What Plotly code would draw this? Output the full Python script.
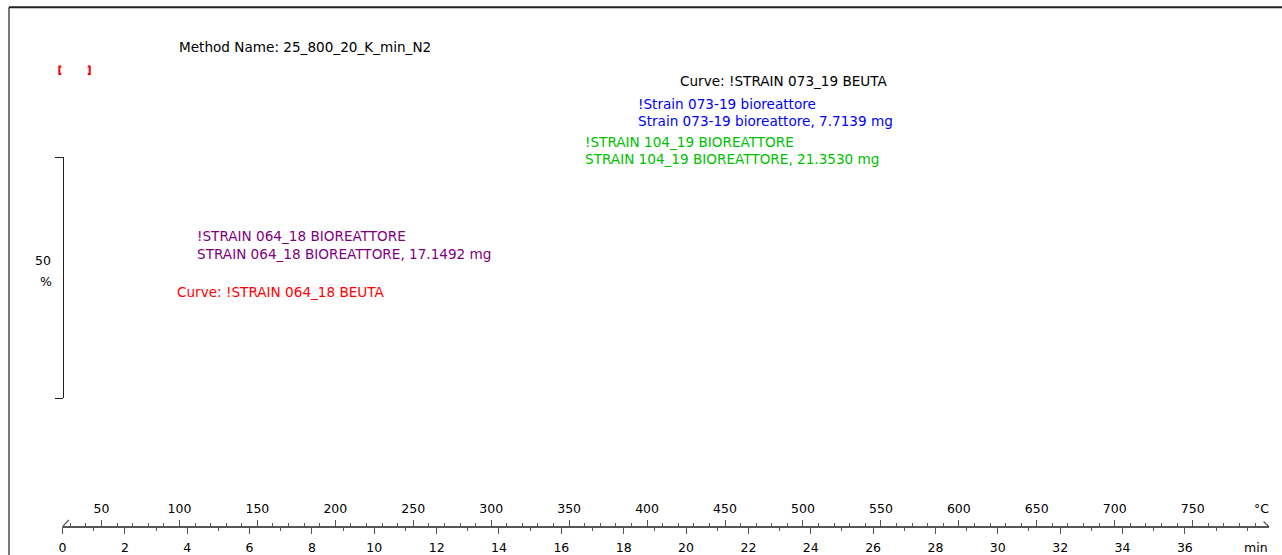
import plotly.graph_objects as go

W, H = 1282, 555

# ---- data / scale info ----
heating_rate = 20          # K/min
start_temp = 25            # °C
time_range = [0, 38.70]    # min
time_major = list(range(0, 37, 2))
temp_major = list(range(50, 751, 50))
mass_scale = [0, 50]       # % scale bar

method_name = "Method Name: 25_800_20_K_min_N2"
labels = [
    ("Curve: !STRAIN 073_19 BEUTA", "#000000", 680, 81),
    ("!Strain 073-19 bioreattore", "#0000FF", 638, 104),
    ("Strain 073-19 bioreattore, 7.7139 mg", "#0000FF", 638, 121),
    ("!STRAIN 104_19 BIOREATTORE", "#00C000", 585, 142),
    ("STRAIN 104_19 BIOREATTORE, 21.3530 mg", "#00C000", 585, 159),
    ("!STRAIN 064_18 BIOREATTORE", "#800080", 196, 236),
    ("STRAIN 064_18 BIOREATTORE, 17.1492 mg", "#800080", 196, 254),
    ("Curve: !STRAIN 064_18 BEUTA", "#FF0000", 176, 292),
]

FONT = "DejaVu Sans"
FS = 13.6
TFS = 12.5
XOFF = -4

def px(x):
    return x / W

def py(y):
    return 1 - y / H

axis_y = 526.7
x0_px, x1_px = 58.7, 1269

fig = go.Figure()
fig.add_trace(go.Scatter(x=[], y=[], xaxis="x", yaxis="y", showlegend=False))
fig.add_trace(go.Scatter(x=[], y=[], xaxis="x2", yaxis="y", showlegend=False))

temp_range = [start_temp + heating_rate * t for t in time_range]

fig.update_layout(
    width=W, height=H,
    margin=dict(l=0, r=0, t=0, b=0),
    paper_bgcolor="white", plot_bgcolor="rgba(0,0,0,0)",
    showlegend=False,
    font=dict(family=FONT, size=FS, color="black"),
    xaxis=dict(
        domain=[px(x0_px), px(x1_px)], range=time_range,
        anchor="free", position=py(axis_y),
        showline=True, linecolor="#555555", linewidth=1.5,
        showgrid=False, zeroline=False,
        tickmode="array", tickvals=time_major, ticktext=[str(v) for v in time_major],
        ticks="outside", ticklen=7, tickcolor="#555555", tickwidth=1.2,
        ticklabelstandoff=3,
        minor=dict(dtick=1, tick0=0, ticklen=4, ticks="outside", tickcolor="#555555", showgrid=False),
        tickfont=dict(family=FONT, size=TFS, color="black"),
    ),
    xaxis2=dict(
        overlaying="x", side="top", domain=[px(x0_px), px(x1_px)], range=temp_range,
        anchor="free", position=py(axis_y),
        showline=False, showgrid=False, zeroline=False,
        tickmode="array", tickvals=temp_major, ticktext=[str(v) for v in temp_major],
        ticks="outside", ticklen=7, tickcolor="#555555", tickwidth=1.2,
        ticklabelstandoff=2,
        minor=dict(dtick=10, tick0=30, ticklen=4, ticks="outside", tickcolor="#555555", showgrid=False),
        tickfont=dict(family=FONT, size=TFS, color="black"),
    ),
    yaxis=dict(
        domain=[py(398.3), py(157.3)], range=mass_scale,
        anchor="free", position=px(59),
        showline=True, linecolor="#222222", linewidth=1.2,
        showgrid=False, zeroline=False,
        tickmode="array", tickvals=mass_scale, showticklabels=False,
        ticks="outside", ticklen=8, tickcolor="#222222", tickwidth=1.2,
    ),
)

ann = []
ann.append(dict(text=method_name, x=px(178 + XOFF), y=py(47), xref="paper", yref="paper",
                xanchor="left", yanchor="middle", showarrow=False,
                font=dict(family=FONT, size=FS, color="black")))
for t, c, x, y in labels:
    ann.append(dict(text=t, x=px(x + XOFF), y=py(y), xref="paper", yref="paper",
                    xanchor="left", yanchor="middle", showarrow=False,
                    font=dict(family=FONT, size=FS, color=c)))
ann.append(dict(text="50", x=px(39), y=py(260), xref="paper", yref="paper",
                xanchor="center", yanchor="middle", showarrow=False,
                font=dict(family=FONT, size=TFS, color="black")))
ann.append(dict(text="%", x=px(42), y=py(281), xref="paper", yref="paper",
                xanchor="center", yanchor="middle", showarrow=False,
                font=dict(family=FONT, size=TFS, color="black")))
ann.append(dict(text="°C", x=px(1261), y=py(508), xref="paper", yref="paper",
                xanchor="center", yanchor="middle", showarrow=False,
                font=dict(family=FONT, size=TFS, color="black")))
ann.append(dict(text="min", x=px(1256), y=py(547), xref="paper", yref="paper",
                xanchor="center", yanchor="middle", showarrow=False,
                font=dict(family=FONT, size=TFS, color="black")))
fig.update_layout(annotations=ann)

shapes = []
# frame lines
shapes.append(dict(type="line", xref="paper", yref="paper", x0=px(5), y0=py(7.3), x1=px(5), y1=0,
                   line=dict(color="#777777", width=2)))
shapes.append(dict(type="line", xref="paper", yref="paper", x0=px(5), y0=py(7.3), x1=1, y1=py(7.3),
                   line=dict(color="#222222", width=2)))
# axis end decorations
shapes.append(dict(type="line", xref="paper", yref="paper", x0=px(58.7), y0=py(526.7), x1=px(65), y1=py(520),
                   line=dict(color="#555555", width=1.2)))
shapes.append(dict(type="line", xref="paper", yref="paper", x0=px(1263.5), y0=py(521.5), x1=px(1269), y1=py(526.7),
                   line=dict(color="#555555", width=1.2)))
# red range brackets
shapes.append(dict(type="path", xref="paper", yref="paper",
                   path=f"M {px(57.5)},{py(66.5)} L {px(55.5)},{py(66.5)} L {px(55.5)},{py(74)} L {px(57.5)},{py(74)}",
                   line=dict(color="#FF0000", width=2)))
shapes.append(dict(type="path", xref="paper", yref="paper",
                   path=f"M {px(84)},{py(66.5)} L {px(86)},{py(66.5)} L {px(86)},{py(74)} L {px(84)},{py(74)}",
                   line=dict(color="#FF0000", width=2)))
fig.update_layout(shapes=shapes)

fig.write_html("out.html")
